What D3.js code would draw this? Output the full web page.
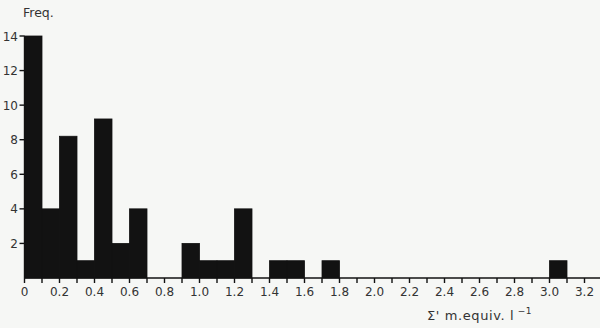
<!DOCTYPE html>
<html>
<head>
<meta charset="utf-8">
<script src="https://cdn.jsdelivr.net/npm/d3@7"></script>
<style>
  html, body { margin: 0; padding: 0; background: #f6f7f5; }
  svg { display: block; }
  text { font-family: "DejaVu Sans", "Liberation Sans", sans-serif; fill: #333; }
</style>
</head>
<body>
<svg id="chart" width="600" height="328"></svg>
<script>
// Histogram of concentrations, bins of width 0.1
const binStarts = [0.0, 0.1, 0.2, 0.3, 0.4, 0.5, 0.6, 0.9, 1.0, 1.1, 1.2, 1.4, 1.5, 1.7, 3.0];
const freq      = [14,  4,   8.2, 1,   9.2, 2,   4,   2,   1,   1,   4,   1,   1,   1,   1];
const binWidth = 0.1;
const xLabelTicks = [0, 0.2, 0.4, 0.6, 0.8, 1.0, 1.2, 1.4, 1.6, 1.8, 2.0, 2.2, 2.4, 2.6, 2.8, 3.0, 3.2];
const yTicks = [2, 4, 6, 8, 10, 12, 14];

const svg = d3.select("#chart");
const x = d3.scaleLinear().domain([0, 3.2]).range([24.5, 584.5]);
const y = d3.scaleLinear().domain([0, 14]).range([278, 36]);
const ink = "#121212";

// bars; a thin same-colour stroke closes the seams between neighbouring bins
svg.append("g")
  .selectAll("rect")
  .data(binStarts.map((s, i) => ({ s, f: freq[i] })))
  .join("rect")
  .attr("x", d => x(d.s))
  .attr("width", d => x(d.s + binWidth) - x(d.s))
  .attr("y", d => y(d.f))
  .attr("height", d => y(0) - y(d.f))
  .attr("fill", ink)
  .attr("stroke", ink)
  .attr("stroke-width", 0.8);

// x axis: line, minor ticks every 0.1, labels every 0.2
const xAxisG = svg.append("g").attr("transform", `translate(0,${y(0)})`);
xAxisG.append("line")
  .attr("x1", x(0)).attr("x2", 600)
  .attr("stroke", ink).attr("stroke-width", 1.6);
const minor = d3.range(0, 33).map(i => i / 10);
xAxisG.selectAll("line.tick")
  .data(minor)
  .join("line")
  .attr("class", "tick")
  .attr("x1", d => x(d)).attr("x2", d => x(d))
  .attr("y1", 0).attr("y2", 5)
  .attr("stroke", ink).attr("stroke-width", 1.4);
xAxisG.selectAll("text")
  .data(xLabelTicks)
  .join("text")
  .attr("x", d => x(d))
  .attr("y", 18)
  .attr("text-anchor", "middle")
  .attr("font-size", 12)
  .text(d => d === 0 ? "0" : d.toFixed(1));

// y axis ticks and labels
const yAxisG = svg.append("g");
yAxisG.append("line")
  .attr("x1", x(0)).attr("x2", x(0))
  .attr("y1", y(0)).attr("y2", y(14))
  .attr("stroke", ink).attr("stroke-width", 1.4);
yAxisG.selectAll("line.tick")
  .data(yTicks)
  .join("line")
  .attr("class", "tick")
  .attr("x1", x(0) - 5).attr("x2", x(0))
  .attr("y1", d => y(d)).attr("y2", d => y(d))
  .attr("stroke", ink).attr("stroke-width", 1.4);
yAxisG.selectAll("text")
  .data(yTicks)
  .join("text")
  .attr("x", 18)
  .attr("y", d => y(d) + 4.5)
  .attr("text-anchor", "end")
  .attr("font-size", 12)
  .text(d => d);

// axis titles
svg.append("text")
  .attr("x", 23).attr("y", 17)
  .attr("font-size", 12.5)
  .text("Freq.");

const xTitle = svg.append("text")
  .attr("x", 427).attr("y", 320)
  .attr("font-size", 13)
  .attr("letter-spacing", 0.6);
xTitle.append("tspan").text("Σ' m.equiv. l");
xTitle.append("tspan").attr("dy", -6).attr("font-size", 9).text(" −1");
</script>
</body>
</html>
